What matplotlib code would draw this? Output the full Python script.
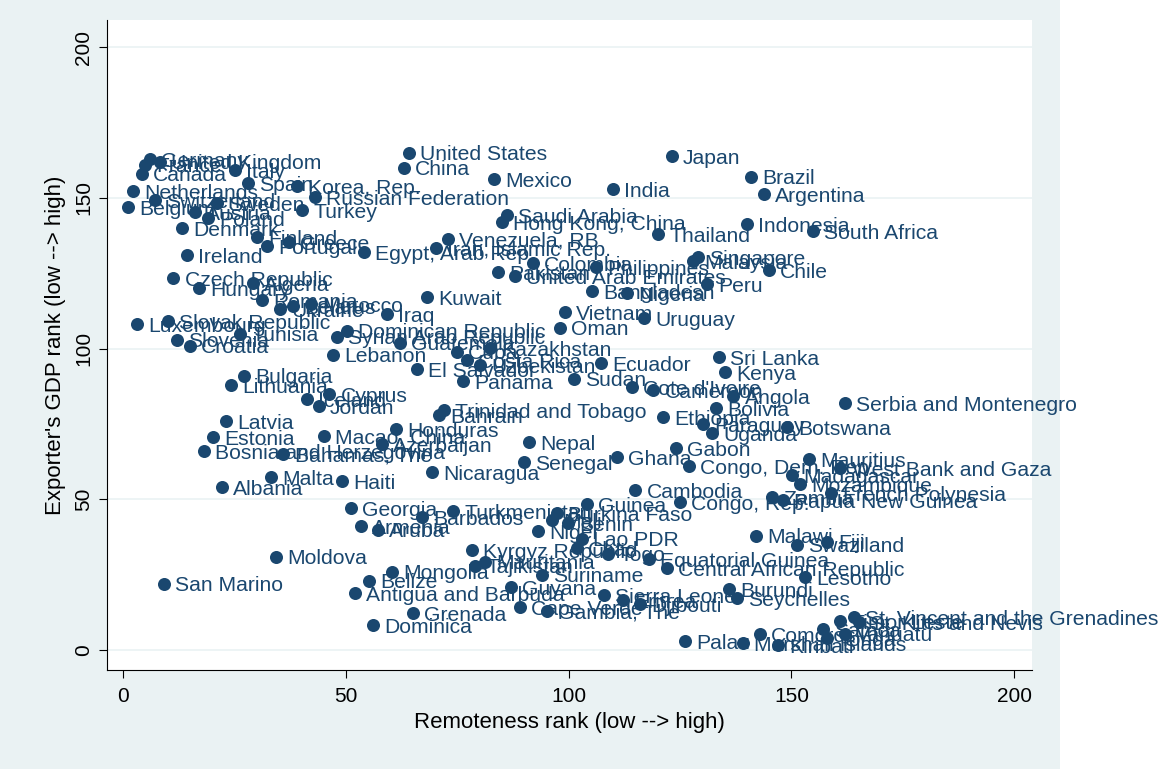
import matplotlib.pyplot as plt
from matplotlib.patches import Rectangle

# country labels, remoteness rank (x) and exporter GDP rank (y)
countries = [
    "United States", "China", "Japan", "Germany", "United Kingdom", "France", "Canada", "Italy",
    "Spain", "Korea, Rep.", "Russian Federation", "Turkey", "Netherlands", "Belgium", "Switzerland",
    "Sweden", "Austria", "Poland", "Denmark", "Finland", "Greece", "Portugal", "Ireland",
    "Czech Republic", "Hungary", "Algeria", "Romania", "Ukraine", "Belarus", "Morocco",
    "Luxembourg", "Slovak Republic", "Slovenia", "Croatia", "Tunisia", "Mexico", "India", "Brazil",
    "Argentina", "Saudi Arabia", "Hong Kong, China", "Thailand", "Indonesia", "South Africa",
    "Venezuela, RB", "Iran, Islamic Rep.", "Egypt, Arab Rep.", "Colombia", "Philippines",
    "Singapore", "Malaysia", "Chile", "Pakistan", "United Arab Emirates", "Peru", "Bangladesh",
    "Nigeria", "Kuwait", "Iraq", "Vietnam", "Oman", "Uruguay", "Dominican Republic",
    "Syrian Arab Republic", "Guatemala", "Lebanon", "Cuba", "Kazakhstan", "Costa Rica",
    "Uzbekistan", "El Salvador", "Panama", "Ecuador", "Sudan", "Sri Lanka", "Kenya",
    "Cote d'Ivoire", "Cameroon", "Angola", "Bolivia", "Serbia and Montenegro", "Bulgaria",
    "Lithuania", "Cyprus", "Iceland", "Jordan", "Trinidad and Tobago", "Bahrain", "Latvia",
    "Ethiopia", "Paraguay", "Uganda", "Botswana", "Honduras", "Macao, China", "Estonia",
    "Azerbaijan", "Nepal", "Bosnia and Herzegovina", "Bahamas, The", "Gabon", "Ghana", "Senegal",
    "Congo, Dem. Rep.", "Mauritius", "West Bank and Gaza", "Madagascar", "Mozambique",
    "Nicaragua", "Malta", "Haiti", "Albania", "Cambodia", "French Polynesia", "Congo, Rep.",
    "Zambia", "Papua New Guinea", "Georgia", "Turkmenistan", "Barbados", "Guinea",
    "Burkina Faso", "Mali", "Benin", "Armenia", "Aruba", "Niger", "Lao PDR", "Malawi", "Fiji",
    "Swaziland", "Chad", "Kyrgyz Republic", "Togo", "Moldova", "Equatorial Guinea",
    "Mauritania", "Tajikistan", "Central African Republic", "Mongolia", "Suriname", "Lesotho",
    "Belize", "San Marino", "Guyana", "Burundi", "Antigua and Barbuda", "Sierra Leone",
    "Seychelles", "Eritrea", "Djibouti", "Cape Verde", "Gambia, The", "Grenada", "Dominica",
    "Palau", "Comoros", "Marshall Islands", "Kiribati", "St. Vincent and the Grenadines",
    "St. Kitts and Nevis", "Timor-Leste", "Samoa", "Vanuatu", "Tonga",
]
remoteness = [
    64.2, 63.1, 123.2, 6.1, 8.3, 4.9, 4.3, 25.1,
    28.1, 39.0, 43.1, 40.2, 2.2, 1.2, 7.2,
    21.1, 16.2, 19.1, 13.2, 30.1, 37.3, 32.3, 14.3,
    11.3, 17.1, 29.2, 31.2, 35.2, 38.2, 42.2,
    3.1, 10.1, 12.1, 15.0, 26.3, 83.3, 110.0, 141.0,
    143.9, 86.2, 85.1, 120.1, 140.0, 154.9,
    73.0, 70.3, 54.1, 92.0, 106.2,
    129.1, 128.0, 145.0, 84.2, 88.0, 131.1, 105.3,
    113.1, 68.2, 59.2, 99.2, 98.1, 117.0, 50.2,
    48.0, 62.2, 47.2, 75.0, 82.4, 77.2,
    80.1, 66.0, 76.3, 107.3, 101.2, 133.8, 135.1,
    114.3, 119.0, 137.0, 133.1, 162.0, 27.2,
    24.2, 46.3, 41.3, 44.0, 72.1, 71.0, 23.1,
    121.2, 130.2, 132.2, 149.0, 61.3, 45.1, 20.2,
    58.1, 91.1, 18.2, 36.0, 124.1, 110.9, 90.0,
    127.0, 154.0, 161.0, 150.2, 152.0,
    69.4, 33.2, 49.2, 22.2, 115.0, 159.0, 125.0,
    145.7, 148.1, 51.2, 74.1, 67.1, 104.2,
    97.4, 96.3, 99.9, 53.4, 57.2, 93.2, 103.0, 142.1, 158.0,
    151.3, 101.9, 78.3, 108.9, 34.3, 118.0,
    81.3, 79.0, 122.1, 60.4, 94.0, 153.1,
    55.2, 9.2, 87.1, 136.0, 52.1, 108.0,
    137.8, 112.2, 116.0, 89.1, 95.2, 65.1, 56.1,
    126.2, 143.0, 139.2, 147.0, 164.0,
    165.2, 161.0, 157.0, 162.0, 158.0,
]
gdp_rank = [
    165.0, 160.0, 163.8, 162.8, 162.0, 161.0, 158.0, 159.2,
    155.0, 154.0, 150.2, 146.0, 152.2, 147.0, 149.3,
    148.3, 145.3, 143.3, 140.0, 137.0, 135.3, 134.0, 131.0,
    123.4, 120.0, 121.7, 116.0, 113.0, 114.0, 114.8,
    108.0, 109.2, 103.0, 101.0, 105.0, 156.2, 153.0, 157.0,
    151.2, 144.3, 142.0, 138.0, 141.3, 139.0,
    136.3, 133.3, 132.0, 128.3, 127.0,
    130.3, 129.0, 126.0, 125.4, 124.0, 121.4, 119.0,
    118.4, 117.0, 111.4, 112.0, 107.0, 110.0, 106.0,
    104.0, 102.0, 98.0, 99.0, 100.2, 96.2,
    94.5, 93.2, 89.2, 95.2, 90.0, 97.2, 92.2,
    87.3, 86.2, 84.2, 80.3, 82.0, 91.0,
    88.0, 85.0, 83.3, 81.0, 79.6, 78.0, 76.0,
    77.3, 75.0, 72.0, 74.0, 73.3, 71.0, 70.6,
    68.3, 69.0, 66.0, 65.0, 67.0, 64.0, 62.4,
    61.0, 63.3, 60.4, 58.0, 55.0,
    59.0, 57.4, 56.0, 54.0, 53.0, 52.0, 49.0,
    50.7, 49.8, 47.0, 46.0, 44.0, 48.4,
    45.4, 43.0, 42.0, 41.0, 40.0, 39.5, 37.0, 38.0, 36.0,
    35.0, 33.8, 33.2, 32.0, 31.0, 30.2,
    29.3, 28.0, 27.2, 26.0, 25.0, 24.2,
    23.0, 22.0, 21.0, 20.2, 19.0, 18.2,
    17.2, 16.6, 15.3, 14.3, 13.0, 12.2, 8.3,
    3.0, 5.3, 2.3, 1.7, 11.0,
    9.2, 9.6, 7.0, 5.5, 4.0,
]

navy = "#1a476f"
bg = "#eaf2f3"
plt.rcParams['font.family'] = ['Liberation Sans', 'DejaVu Sans']

fig = plt.figure(figsize=(11.65, 7.69), dpi=100)
fig.patch.set_facecolor("white")
# stata-like graph region behind the plot
fig.patches.append(Rectangle((0, 0), 1060 / 1165, 1, transform=fig.transFigure,
                             facecolor=bg, edgecolor="none", zorder=-10))

ax = fig.add_axes([107 / 1165, 1 - 670 / 769, (1032 - 107) / 1165, (670 - 20) / 769])
ax.set_zorder(1)
ax.set_facecolor("white")
ax.set_xlim(-3.6, 204)
ax.set_ylim(-6.6, 209)

ax.scatter(remoteness, gdp_rank, s=88, color=navy, zorder=3, linewidths=0)
for name, xv, yv in zip(countries, remoteness, gdp_rank):
    ax.annotate(name, (xv, yv), xytext=(8.0, -1.6), textcoords="offset points",
                va="center", ha="left", fontsize=15.2, color=navy, zorder=4,
                annotation_clip=False)

ax.set_xticks([0, 50, 100, 150, 200])
ax.set_yticks([0, 50, 100, 150, 200])
ax.grid(axis="y", color=bg, linewidth=1.2, zorder=0)
ax.set_axisbelow(True)
for side in ["top", "right"]:
    ax.spines[side].set_visible(False)
ax.spines["left"].set_color("black")
ax.spines["bottom"].set_color("black")
ax.tick_params(axis="both", direction="out", length=6, labelsize=15, color="black")
ax.tick_params(axis="x", pad=6.5)
ax.tick_params(axis="y", labelrotation=90, pad=4)
for lbl in ax.get_yticklabels():
    lbl.set_va("center")

ax.set_xlabel("Remoteness rank (low --> high)", fontsize=16, labelpad=4)
ax.set_ylabel("Exporter's GDP rank (low --> high)", fontsize=16, labelpad=6)

fig.savefig("out.png", dpi=100, facecolor=fig.get_facecolor())
